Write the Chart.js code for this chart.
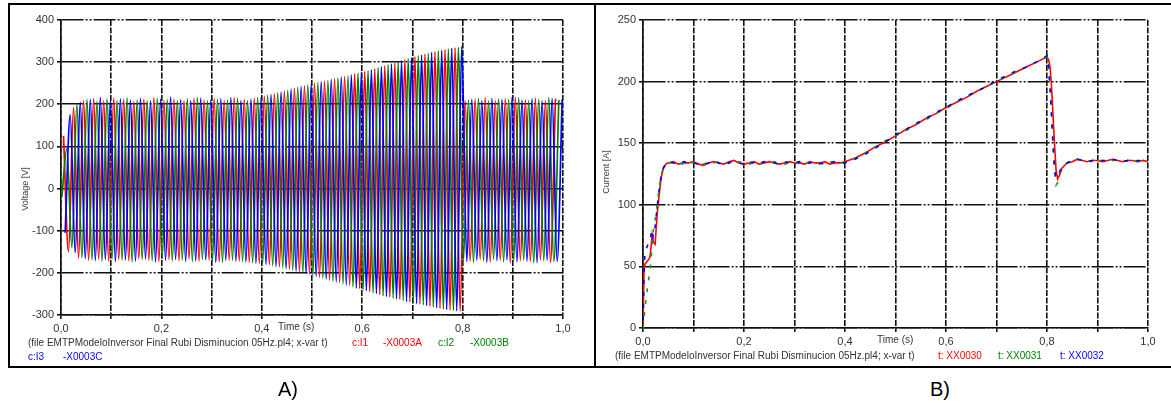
<!DOCTYPE html>
<html>
<head>
<meta charset="utf-8">
<script src="https://cdn.jsdelivr.net/npm/chart.js"></script>
<style>
  body { margin: 0; width: 1171px; height: 403px; background: #fff; position: relative; overflow: hidden;
         font-family: "Liberation Sans", Arial, sans-serif; }
  .box { position: absolute; box-sizing: border-box; border: 2px solid #000; }
  canvas { position: absolute; }
  .t { position: absolute; white-space: nowrap; font-size: 10px; line-height: 12px; color: #333; }
  .ytitle { position: absolute; width: 80px; height: 12px; line-height: 12px; text-align: center;
            font-size: 9px; color: #333; transform: rotate(-90deg); white-space: nowrap; }
  .cap { position: absolute; font-size: 20px; line-height: 22px; color: #000; }
</style>
</head>
<body>
<div class="box" style="left:8px;top:3px;width:588px;height:365px;"></div>
<div class="box" style="left:596px;top:3px;width:600px;height:365px;border-left:none;"></div>

<canvas id="chartV" width="585" height="360" style="left:10px;top:5px;"></canvas>
<canvas id="chartI" width="575" height="360" style="left:596px;top:5px;"></canvas>

<div class="ytitle" style="left:-15px;top:183px;">Voltage [V]</div>
<div class="ytitle" style="left:566px;top:166px;">Current [A]</div>

<div class="t" style="left:278px;top:321px;">Time (s)</div>
<div class="t" style="left:877px;top:334px;">Time (s)</div>

<div class="t" style="left:28px;top:337px;">(file EMTPModeloInversor Final Rubi Disminucion 05Hz.pl4; x-var t)</div>
<div class="t" style="left:352px;top:337px;color:#f00;">c:I1</div>
<div class="t" style="left:383px;top:337px;color:#f00;">-X0003A</div>
<div class="t" style="left:438px;top:337px;color:#008000;">c:I2</div>
<div class="t" style="left:470px;top:337px;color:#008000;">-X0003B</div>
<div class="t" style="left:28px;top:351px;color:#00f;">c:I3</div>
<div class="t" style="left:63px;top:351px;color:#00f;">-X0003C</div>

<div class="t" style="left:615px;top:350px;">(file EMTPModeloInversor Final Rubi Disminucion 05Hz.pl4; x-var t)</div>
<div class="t" style="left:938px;top:350px;color:#f00;">t: XX0030</div>
<div class="t" style="left:998px;top:350px;color:#008000;">t: XX0031</div>
<div class="t" style="left:1060px;top:350px;color:#00f;">t: XX0032</div>

<div class="cap" style="left:278px;top:378px;">A)</div>
<div class="cap" style="left:930px;top:378px;">B)</div>

<script>
// ---- A) voltage: one entry per 50 Hz cycle, trough then peak ----
const cycleTimes = [0.00, 0.02, 0.04, 0.06, 0.08, 0.10, 0.12, 0.14, 0.16, 0.18,
                    0.20, 0.22, 0.24, 0.26, 0.28, 0.30, 0.32, 0.34, 0.36, 0.38,
                    0.40, 0.42, 0.44, 0.46, 0.48, 0.50, 0.52, 0.54, 0.56, 0.58,
                    0.60, 0.62, 0.64, 0.66, 0.68, 0.70, 0.72, 0.74, 0.76, 0.78,
                    0.80, 0.82, 0.84, 0.86, 0.88, 0.90, 0.92, 0.94, 0.96, 0.98];

const shiftI1 = -0.005, shiftI2 = 0.00167, shiftI3 = 0.00833;
const startI1 = -170, startI2 = 10, startI3 = 150;

const peaksI1 = [125, 192, 209, 213, 208, 214, 211, 207, 212, 215, 209, 212, 208, 214, 210, 213, 209, 215, 212, 214,
                 219, 225, 231, 238, 244, 250, 255, 261, 266, 272, 278, 284, 291, 298, 306, 313, 319, 325, 330, 334,
                 208, 212, 215, 209, 213, 216, 210, 214, 209, 213];
const troughsI1 = [-170, -150, -165, -170, -167, -172, -168, -171, -166, -170, -173, -168, -171, -167, -172, -169, -174, -170, -172, -175,
                   -177, -181, -186, -191, -197, -203, -210, -217, -223, -230, -237, -244, -251, -257, -263, -269, -274, -279, -284, -288,
                   -291, -172, -168, -174, -170, -176, -171, -173, -169, -175];

const peaksI2 = [95, 200, 211, 207, 213, 209, 215, 210, 208, 214, 211, 209, 213, 216, 208, 212, 210, 214, 209, 216,
                 221, 227, 233, 240, 246, 252, 257, 263, 268, 274, 280, 287, 294, 301, 308, 315, 321, 327, 331, 335,
                 210, 214, 208, 213, 211, 215, 209, 212, 216, 210];
const troughsI2 = [-20, -140, -164, -169, -172, -167, -170, -174, -168, -171, -166, -172, -169, -173, -168, -171, -175, -170, -173, -176,
                   -178, -183, -188, -194, -200, -206, -213, -220, -227, -233, -240, -247, -254, -260, -266, -271, -276, -281, -286, -289,
                   -170, -175, -171, -168, -174, -172, -169, -176, -171, -173];

const peaksI3 = [175, 205, 212, 216, 209, 213, 210, 214, 208, 212, 217, 211, 209, 214, 210, 213, 216, 209, 212, 215,
                 223, 229, 236, 242, 248, 254, 259, 265, 270, 276, 282, 289, 296, 303, 310, 317, 323, 328, 333, 337,
                 212, 209, 214, 211, 216, 210, 213, 208, 214, 211];
const troughsI3 = [-105, -152, -166, -171, -168, -173, -169, -172, -167, -174, -170, -168, -173, -171, -169, -175, -170, -172, -174, -177,
                   -180, -185, -190, -196, -202, -208, -215, -222, -229, -236, -242, -249, -256, -262, -268, -273, -278, -283, -287, -290,
                   -173, -170, -175, -171, -169, -174, -172, -176, -170, -173];

// ---- B) current ----
const timesCur = [0, 0.002, 0.004, 0.006, 0.008, 0.01, 0.012, 0.014, 0.016, 0.018, 0.02, 0.024, 0.028, 0.032, 0.036, 0.04, 0.045, 0.05,
                  0.06, 0.07, 0.08, 0.09, 0.10, 0.11, 0.12, 0.13, 0.14, 0.15, 0.16, 0.17, 0.18, 0.19, 0.20, 0.21, 0.22, 0.23,
                  0.24, 0.25, 0.26, 0.27, 0.28, 0.29, 0.30, 0.31, 0.32, 0.33, 0.34, 0.35, 0.36, 0.37, 0.38, 0.39, 0.40,
                  0.42, 0.44, 0.46, 0.48, 0.50, 0.52, 0.54, 0.56, 0.58, 0.60, 0.62, 0.64, 0.66, 0.68, 0.70, 0.72, 0.74, 0.76, 0.78, 0.80,
                  0.803, 0.806, 0.809, 0.812, 0.815, 0.818, 0.821, 0.825, 0.83, 0.84, 0.85, 0.86,
                  0.87, 0.88, 0.89, 0.90, 0.91, 0.92, 0.93, 0.94, 0.95, 0.96, 0.97, 0.98, 0.99, 1.00];

const curXX0030 = [0, 48, 52, 53, 54, 55, 56, 58, 66, 75, 70, 68, 92, 108, 122, 129, 133, 134,
                   135, 133, 134, 134, 135, 133, 132, 134, 135, 134, 133, 135, 136, 134, 133, 134, 135, 133,
                   134, 135, 134, 133, 134, 135, 134, 134, 133, 135, 134, 134, 135, 133, 134, 134, 135,
                   138, 142, 147, 151, 156, 161, 165, 170, 174, 179, 183, 187, 192, 196, 200, 204, 208, 212, 216, 220,
                   218, 212, 196, 172, 148, 128, 121, 124, 130, 134, 135, 137,
                   136, 135, 136, 136, 135, 136, 137, 136, 135, 136, 136, 135, 136, 135];
const curXX0031 = [0, 8, 16, 24, 30, 36, 42, 48, 56, 66, 78, 88, 100, 114, 124, 130, 133, 134,
                   134, 134, 133, 135, 134, 134, 133, 135, 134, 135, 134, 134, 135, 135, 134, 133, 134, 134,
                   135, 134, 135, 134, 133, 134, 135, 133, 134, 134, 135, 133, 134, 135, 134, 133, 135,
                   138, 142, 147, 152, 156, 160, 165, 169, 174, 178, 183, 188, 192, 196, 200, 204, 208, 212, 216, 220,
                   214, 198, 175, 150, 128, 116, 118, 125, 131, 134, 136, 137,
                   136, 136, 135, 136, 136, 135, 136, 137, 136, 135, 136, 135, 136, 135];
const curXX0032 = [0, 45, 62, 64, 66, 68, 70, 72, 76, 80, 74, 82, 98, 112, 124, 130, 133, 135,
                   134, 133, 135, 134, 134, 133, 133, 134, 136, 134, 132, 134, 135, 134, 133, 135, 134, 133,
                   135, 134, 134, 133, 135, 134, 134, 135, 133, 134, 135, 134, 133, 134, 135, 134, 134,
                   137, 141, 146, 151, 157, 161, 166, 170, 175, 179, 184, 188, 192, 196, 201, 205, 209, 212, 216, 221,
                   212, 195, 172, 148, 128, 122, 123, 127, 131, 134, 136, 137,
                   136, 135, 136, 135, 136, 136, 137, 136, 135, 136, 135, 136, 136, 135];

const RED = '#ff0000', GREEN = '#008000', BLUE = '#0000ff';

function phasePoints(start, shift, troughs, peaks) {
  const pts = [{ x: 0, y: start }];
  cycleTimes.forEach((t, i) => {
    pts.push({ x: t + shift, y: troughs[i] });
    pts.push({ x: t + shift + 0.01, y: peaks[i] });
  });
  return pts.filter(p => p.x > 0);
}

const pairs = (xs, ys) => xs.map((x, i) => ({ x, y: ys[i] }));

Chart.defaults.font.family = "'Liberation Sans', Arial, sans-serif";
Chart.defaults.font.size = 11;
Chart.defaults.color = '#333';

const timeTicks = v => (Math.round(v * 10) % 2 === 0 ? v.toFixed(1).replace('.', ',') : '');

function xScale(height) {
  return {
    type: 'linear', min: 0, max: 1,
    ticks: { stepSize: 0.1, autoSkip: false, maxRotation: 0, padding: 3, callback: timeTicks, color: '#333' },
    grid: { color: '#111', lineWidth: 1.6, tickLength: 4 },
    border: { color: '#111', width: 1.6, dash: [6, 1.5] },
    afterFit: s => { s.height = height; }
  };
}
function yScale(min, max, step) {
  return {
    min, max,
    ticks: { stepSize: step, padding: 3, color: '#333' },
    grid: { color: '#111', lineWidth: 1.6, tickLength: 4 },
    border: { color: '#111', width: 1.6, dash: [22, 2, 2, 2, 2, 2] },
    afterFit: s => { s.width = 45; }
  };
}

const common = {
  responsive: false,
  animation: false,
  devicePixelRatio: 1,
  parsing: false,
  normalized: true,
  plugins: { legend: { display: false }, tooltip: { enabled: false } },
  elements: { point: { radius: 0 } }
};

new Chart(document.getElementById('chartV'), {
  type: 'line',
  data: {
    datasets: [
      { label: 'c:I3 -X0003C', data: phasePoints(startI3, shiftI3, troughsI3, peaksI3), borderColor: BLUE, borderWidth: 1.7, cubicInterpolationMode: 'monotone' },
      { label: 'c:I2 -X0003B', data: phasePoints(startI2, shiftI2, troughsI2, peaksI2), borderColor: GREEN, borderWidth: 1.7, cubicInterpolationMode: 'monotone' },
      { label: 'c:I1 -X0003A', data: phasePoints(startI1, shiftI1, troughsI1, peaksI1), borderColor: RED, borderWidth: 1.7, cubicInterpolationMode: 'monotone' }
    ]
  },
  options: {
    ...common,
    layout: { padding: { left: 6, top: 15, right: 32, bottom: 26 } },
    scales: { x: xScale(24), y: yScale(-300, 400, 100) }
  }
});

new Chart(document.getElementById('chartI'), {
  type: 'line',
  data: {
    datasets: [
      { label: 't: XX0032', data: pairs(timesCur, curXX0032), borderColor: BLUE, borderWidth: 1.6, borderDash: [4, 8], borderDashOffset: 4 },
      { label: 't: XX0031', data: pairs(timesCur, curXX0031), borderColor: '#1a9a1a', borderWidth: 1.6, borderDash: [4, 8] },
      { label: 't: XX0030', data: pairs(timesCur, curXX0030), borderColor: RED, borderWidth: 1.6 }
    ]
  },
  options: {
    ...common,
    layout: { padding: { left: 2, top: 15, right: 23, bottom: 13 } },
    scales: { x: xScale(24), y: yScale(0, 250, 50) }
  }
});
</script>
</body>
</html>
